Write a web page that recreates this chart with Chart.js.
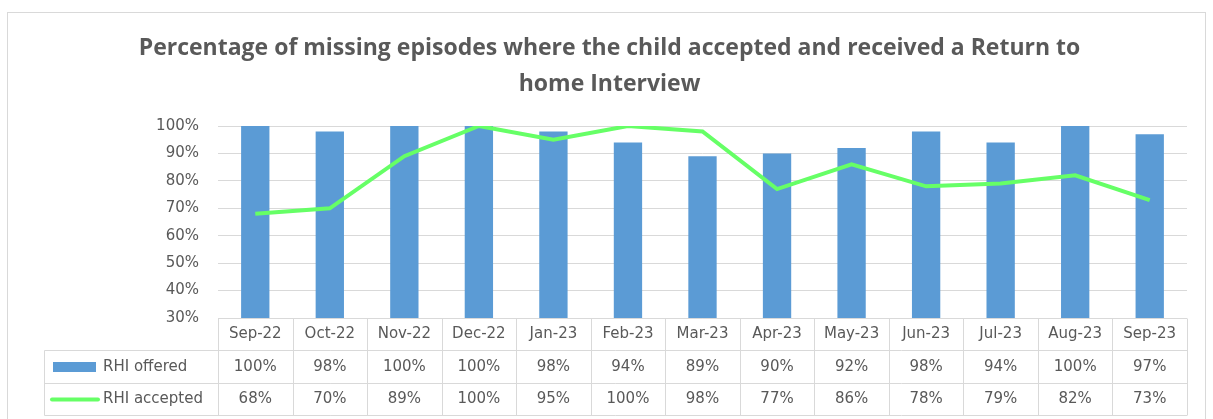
<!DOCTYPE html>
<html>
<head>
<meta charset="utf-8">
<script src="https://cdn.jsdelivr.net/npm/chart.js@4"></script>
<style>
  html, body { margin: 0; padding: 0; background: #fff; }
  #wrap { width: 1213px; height: 419px; }
</style>
</head>
<body>
<div id="wrap"><canvas id="chart"></canvas></div>
<script>
const months = ['Sep-22', 'Oct-22', 'Nov-22', 'Dec-22', 'Jan-23', 'Feb-23', 'Mar-23', 'Apr-23', 'May-23', 'Jun-23', 'Jul-23', 'Aug-23', 'Sep-23'];
const rhiOffered = [100, 98, 100, 100, 98, 94, 89, 90, 92, 98, 94, 100, 97];
const rhiAccepted = [68, 70, 89, 100, 95, 100, 98, 77, 86, 78, 79, 82, 73];
const seriesNames = ['RHI offered', 'RHI accepted'];
const titleLines = ['Percentage of missing episodes where the child accepted and received a Return to', 'home Interview'];

const BLUE = '#5B9BD5';
const GREEN = '#66FF66';
const GRID = '#D9D9D9';
const TEXT = '#595959';
const FONT = '"DejaVu Sans", sans-serif';

// data table under the plot, drawn off the x scale
const dataTable = {
    id: 'dataTable',
    beforeDraw(chart) {
        const ctx = chart.ctx;
        ctx.save();
        ctx.fillStyle = '#fff';
        ctx.fillRect(0, 0, chart.width, chart.height);
        ctx.strokeStyle = GRID;
        ctx.lineWidth = 1;
        ctx.strokeRect(7.5, 12.5, 1198, 420);
        ctx.restore();
    },
    afterDraw(chart) {
        const ctx = chart.ctx;
        const x = chart.scales.x;
        const area = chart.chartArea;
        const step = (area.right - area.left) / months.length;
        const top = Math.round(area.bottom) + 0.5;
        const legendLeft = 44.5;
        const rows = [top, top + 32, top + 65, top + 97];

        ctx.save();
        ctx.strokeStyle = GRID;
        ctx.lineWidth = 1;
        ctx.beginPath();
        ctx.moveTo(area.left, rows[0]);
        ctx.lineTo(area.right, rows[0]);
        for (let r = 1; r < rows.length; r++) {
            ctx.moveTo(legendLeft, rows[r]);
            ctx.lineTo(area.right, rows[r]);
        }
        for (let i = 0; i <= months.length; i++) {
            const xx = Math.round(area.left + i * step) + 0.5;
            ctx.moveTo(xx, rows[0]);
            ctx.lineTo(xx, rows[3]);
        }
        ctx.moveTo(legendLeft, rows[1]);
        ctx.lineTo(legendLeft, rows[3]);
        ctx.stroke();

        ctx.fillStyle = TEXT;
        ctx.font = '15px ' + FONT;
        ctx.textAlign = 'center';
        ctx.textBaseline = 'middle';
        months.forEach((m, i) => {
            const cx = x.getPixelForValue(i);
            ctx.fillText(m, cx, (rows[0] + rows[1]) / 2);
            ctx.fillText(rhiOffered[i] + '%', cx, (rows[1] + rows[2]) / 2);
            ctx.fillText(rhiAccepted[i] + '%', cx, (rows[2] + rows[3]) / 2);
        });

        // legend keys
        const y1 = (rows[1] + rows[2]) / 2;
        const y2 = (rows[2] + rows[3]) / 2;
        ctx.fillStyle = BLUE;
        ctx.fillRect(53, y1 - 5, 43, 10);
        ctx.strokeStyle = GREEN;
        ctx.lineWidth = 4;
        ctx.lineCap = 'round';
        ctx.beginPath();
        ctx.moveTo(52, y2);
        ctx.lineTo(98, y2);
        ctx.stroke();
        ctx.fillStyle = TEXT;
        ctx.textAlign = 'left';
        ctx.fillText(seriesNames[0], 103, y1);
        ctx.fillText(seriesNames[1], 103, y2);
        ctx.restore();
    }
};

new Chart(document.getElementById('chart'), {
    data: {
        labels: months,
        datasets: [
            {
                type: 'line',
                label: seriesNames[1],
                data: rhiAccepted,
                borderColor: GREEN,
                borderWidth: 4,
                pointRadius: 0,
                tension: 0,
                order: 0
            },
            {
                type: 'bar',
                label: seriesNames[0],
                data: rhiOffered,
                backgroundColor: BLUE,
                categoryPercentage: 1,
                barPercentage: 0.38,
                order: 1
            }
        ]
    },
    plugins: [dataTable],
    options: {
        responsive: true,
        maintainAspectRatio: false,
        animation: false,
        layout: { padding: { top: 12, right: 26, bottom: 93, left: 32 } },
        plugins: {
            legend: { display: false },
            tooltip: { enabled: false },
            title: {
                display: true,
                text: titleLines,
                color: TEXT,
                font: { family: '"Open Sans", sans-serif', size: 23, weight: 'bold', lineHeight: 36 / 23 },
                padding: { top: 18, bottom: 24 }
            }
        },
        scales: {
            x: {
                ticks: { display: false },
                grid: { display: false },
                border: { display: false }
            },
            y: {
                min: 30,
                max: 100,
                ticks: {
                    stepSize: 10,
                    padding: 19,
                    color: TEXT,
                    font: { family: FONT, size: 15 },
                    callback: v => v + '%'
                },
                grid: { color: GRID, drawTicks: false },
                border: { display: false },
                afterFit: s => { s.width = 186; }
            }
        }
    }
});
</script>
</body>
</html>
